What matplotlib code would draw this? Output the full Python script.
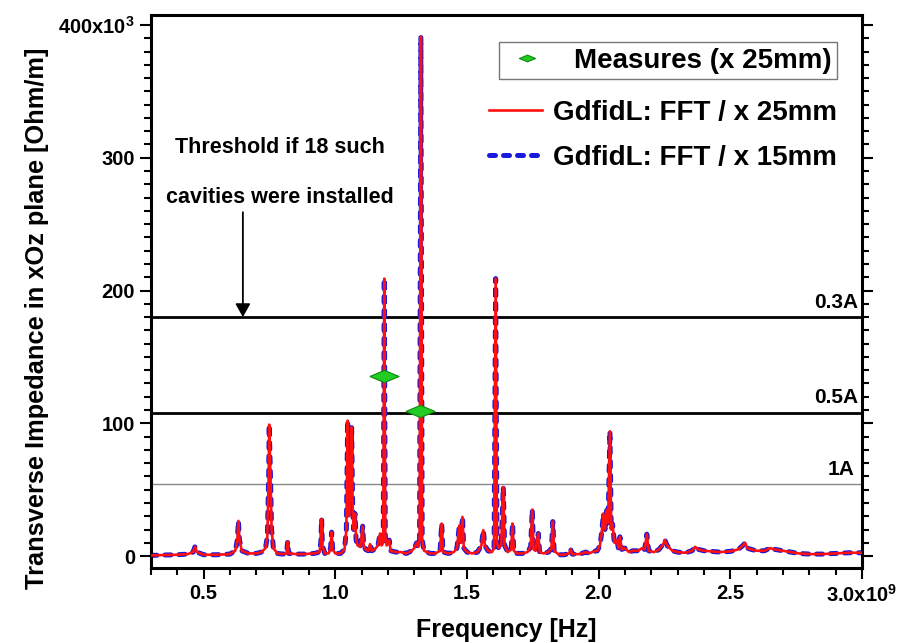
import matplotlib

matplotlib.use("Agg")
import matplotlib.pyplot as plt
from matplotlib.lines import Line2D
from matplotlib.ticker import FixedLocator, MultipleLocator

plt.rcParams["font.family"] = ["Liberation Sans", "DejaVu Sans"]
plt.rcParams["font.weight"] = "bold"
plt.rcParams["mathtext.fontset"] = "custom"
plt.rcParams["mathtext.rm"] = "Liberation Sans:bold"
plt.rcParams["mathtext.bf"] = "Liberation Sans:bold"

# FFT impedance spectrum (GHz, x10^3 Ohm/m)
FREQ_GHZ = [
    0.30, 0.35, 0.40, 0.44, 0.46, 0.467, 0.475, 0.50, 0.55, 0.60,
    0.62, 0.628, 0.632, 0.636, 0.645, 0.67, 0.70, 0.72, 0.735, 0.742,
    0.747, 0.749, 0.752, 0.755, 0.758, 0.765, 0.78, 0.80, 0.815, 0.819,
    0.823, 0.85, 0.88, 0.92, 0.94, 0.945, 0.948, 0.951, 0.96, 0.975,
    0.982, 0.986, 0.990, 1.00, 1.02, 1.035, 1.042, 1.047, 1.052, 1.055,
    1.058, 1.062, 1.066, 1.070, 1.075, 1.079, 1.085, 1.095, 1.104, 1.108,
    1.115, 1.125, 1.132, 1.138, 1.15, 1.162, 1.17, 1.176, 1.182, 1.186,
    1.190, 1.195, 1.205, 1.21, 1.23, 1.25, 1.27, 1.29, 1.30, 1.309,
    1.315, 1.320, 1.325, 1.330, 1.337, 1.36, 1.38, 1.398, 1.404, 1.409,
    1.43, 1.45, 1.462, 1.471, 1.476, 1.483, 1.488, 1.50, 1.52, 1.54,
    1.555, 1.562, 1.568, 1.58, 1.595, 1.603, 1.609, 1.614, 1.62, 1.63,
    1.638, 1.643, 1.655, 1.668, 1.673, 1.678, 1.69, 1.71, 1.73, 1.742,
    1.748, 1.753, 1.76, 1.771, 1.776, 1.79, 1.81, 1.821, 1.826, 1.831,
    1.85, 1.87, 1.888, 1.894, 1.90, 1.93, 1.95, 1.965, 1.98, 1.995,
    2.005, 2.012, 2.018, 2.024, 2.031, 2.036, 2.043, 2.048, 2.053, 2.06,
    2.07, 2.075, 2.081, 2.088, 2.10, 2.115, 2.13, 2.15, 2.165, 2.175,
    2.183, 2.19, 2.21, 2.23, 2.245, 2.252, 2.26, 2.28, 2.30, 2.33,
    2.355, 2.366, 2.38, 2.40, 2.43, 2.46, 2.50, 2.53, 2.548, 2.556,
    2.565, 2.58, 2.60, 2.63, 2.651, 2.67, 2.70, 2.73, 2.76, 2.80,
    2.85, 2.90, 2.95, 3.00,
]
Z_25MM = [
    0.5, 0.8, 1.0, 1.5, 3, 7, 3, 1.0, 1.0, 1.5,
    4, 12, 26.5, 12, 4, 2, 2, 3, 6, 15,
    60, 99, 75, 50, 20, 6, 2, 1.5, 2, 10.8,
    2, 1.5, 1.5, 2, 3, 10, 28, 8, 2, 2,
    6, 18, 5, 2, 2, 5, 20, 102, 30, 40,
    60, 97, 35, 20, 32, 12, 8, 7, 22.5, 8,
    5, 4, 9, 4, 5, 8, 17, 8, 10, 209,
    15, 8, 12, 4, 3, 3, 2, 4, 6, 10,
    7, 12, 391, 12, 4, 2, 2, 4, 24.5, 3,
    2, 3, 6, 23, 10, 29.5, 6, 3, 2, 3,
    8, 19.5, 8, 4, 3, 6, 209, 10, 6, 8,
    52, 8, 3, 5, 24.5, 4, 2, 2, 3, 7,
    35, 5, 4, 17, 3, 2, 3, 6, 26, 4,
    1, 1, 2, 5, 1.5, 1.5, 3, 2, 3.5, 4,
    8, 18, 32, 20, 34.5, 25, 94, 20, 24, 10,
    12, 6, 14.5, 5, 6, 3, 4, 4, 6, 5,
    16.5, 4, 3, 5, 9, 12, 8, 4, 3, 2.5,
    4, 7, 5, 4, 3.5, 3, 3.5, 5, 8, 10,
    6, 5, 4, 4, 6, 5, 4, 3, 2, 1.5,
    1.5, 2, 2.5, 2.5,
]
# the 15 mm curve lies on top of the 25 mm one in the picture
Z_15MM = list(Z_25MM)

MEAS_FREQ_GHZ = [1.186, 1.323]
MEAS_Z = [136, 109]

THRESHOLD_Z = [180, 108, 54]
THRESHOLD_LABELS = ["0.3A", "0.5A", "1A"]

X_TICKS = [0.5, 1.0, 1.5, 2.0, 2.5, 3.0]
X_TICK_LABELS = ["0.5", "1.0", "1.5", "2.0", "2.5", r"3.0x10$^{9}$"]
Y_TICKS = [0, 100, 200, 300, 400]
Y_TICK_LABELS = ["0", "100", "200", "300", r"400x10$^{3}$"]

BLUE = "#1a1adc"
RED = "#ff1010"
BLUE_DASH = (0, (1.2, 1.6))

fig = plt.figure(figsize=(9.15, 6.43), dpi=100)
ax = fig.add_axes([0.165, 0.1166, 0.777, 0.860])

ax.plot(FREQ_GHZ, Z_15MM, color=BLUE, lw=3.6, linestyle=BLUE_DASH,
        dash_capstyle="round", zorder=2, label="GdfidL: FFT / x 15mm")
ax.plot(FREQ_GHZ, Z_25MM, color=RED, lw=1.9, zorder=3,
        label="GdfidL: FFT / x 25mm")

diamond = [(-1, 0), (0, 0.42), (1, 0), (0, -0.42), (-1, 0)]
ax.plot(MEAS_FREQ_GHZ, MEAS_Z, linestyle="none", marker=diamond, markersize=21,
        markerfacecolor="#22cc22", markeredgecolor="#118811", markeredgewidth=0.8,
        zorder=5, label="Measures (x 25mm)")

for z, lab in zip(THRESHOLD_Z, THRESHOLD_LABELS):
    if lab == "1A":
        ax.axhline(z, color="#888888", lw=1.0, zorder=1)
    else:
        ax.axhline(z, color="black", lw=2.0, zorder=1)
    ax.text(2.985 if lab != "1A" else 2.97, z + 4, lab, ha="right", va="bottom",
            fontsize=15, fontweight="bold")

ax.text(0.79, 308, "Threshold if 18 such", ha="center", va="center",
        fontsize=15.5, fontweight="bold")
ax.text(0.79, 270, "cavities were installed", ha="center", va="center",
        fontsize=15.5, fontweight="bold")
ax.annotate("", xy=(0.649, 180), xytext=(0.649, 259),
            arrowprops=dict(arrowstyle="-|>,head_length=0.8,head_width=0.45",
                            color="black", lw=1.3, shrinkA=0, shrinkB=0))

ax.set_xlim(0.3, 3.0)
ax.set_ylim(-9, 407.5)
ax.xaxis.set_major_locator(FixedLocator(X_TICKS))
ax.set_xticklabels(X_TICK_LABELS)
ax.xaxis.set_minor_locator(MultipleLocator(0.1))
ax.yaxis.set_major_locator(FixedLocator(Y_TICKS))
ax.set_yticklabels(Y_TICK_LABELS)
ax.yaxis.set_minor_locator(MultipleLocator(10))
ax.tick_params(which="both", direction="out", right=True, top=False,
               labelsize=14.5, width=1.5)
ax.tick_params(which="major", length=8)
ax.tick_params(which="minor", length=5)
for lbl in ax.get_xticklabels() + ax.get_yticklabels():
    lbl.set_fontweight("bold")
for spine in ax.spines.values():
    spine.set_linewidth(2.2)

ax.set_xlabel("Frequency [Hz]", fontsize=18, fontweight="bold", labelpad=9)
ax.set_ylabel("Transverse Impedance in xOz plane [Ohm/m]", fontsize=18.3,
              fontweight="bold")
ax.yaxis.set_label_coords(-0.143, 0.452)

handles, labels = ax.get_legend_handles_labels()
meas_leg = ax.legend([handles[2]], [labels[2]], loc="upper right",
                     bbox_to_anchor=(837 / 915, 1 - 42 / 643),
                     bbox_transform=fig.transFigure, frameon=True,
                     fancybox=False, edgecolor="#777777", framealpha=1,
                     prop={"size": 20, "weight": "bold"}, handlelength=1.6,
                     markerscale=0.55, borderpad=0.2, handletextpad=0.9,
                     borderaxespad=0)
meas_leg.get_frame().set_linewidth(1.0)
ax.add_artist(meas_leg)
line_handles = [Line2D([], [], color=RED, lw=1.9),
                Line2D([], [], color=BLUE, lw=3.6, linestyle=BLUE_DASH,
                       dash_capstyle="round")]
ax.legend(line_handles, [labels[1], labels[0]], loc="upper right",
          bbox_to_anchor=(848 / 915, 1 - 89 / 643),
          bbox_transform=fig.transFigure, frameon=False,
          prop={"size": 20, "weight": "bold"}, handlelength=1.9,
          labelspacing=0.67, handletextpad=0.4, borderaxespad=0)

fig.savefig("out.png", dpi=100)
